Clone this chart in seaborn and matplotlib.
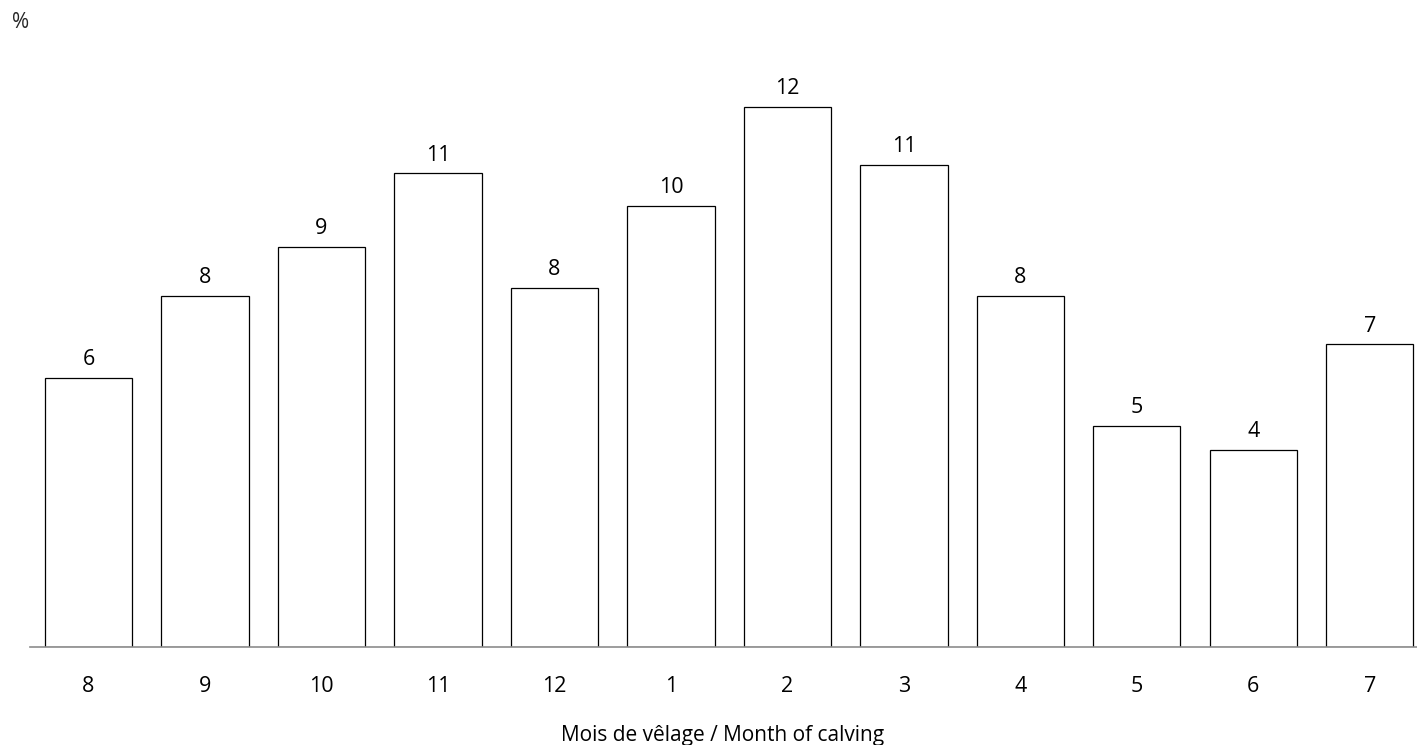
import matplotlib
matplotlib.use("Agg")
import matplotlib.pyplot as plt
import seaborn as sns

# month of calving, August to July
months = ["8", "9", "10", "11", "12", "1", "2", "3", "4", "5", "6", "7"]
shares = [5.98, 7.8, 8.89, 10.53, 7.98, 9.8, 12.0, 10.71, 7.8, 4.91, 4.38, 6.73]
shown = ["6", "8", "9", "11", "8", "10", "12", "11", "8", "5", "4", "7"]

sns.set_theme(style="white")
plt.rcParams["font.family"] = ["Open Sans", "DejaVu Sans"]

fig = plt.figure(figsize=(14.17, 7.45), dpi=100)
ax = fig.add_axes([30.25 / 1417, 98 / 745, 1397.75 / 1417, 585 / 745])

sns.barplot(x=months, y=shares, order=months, color="white", edgecolor="black",
            linewidth=0.9, width=0.75, saturation=1, ax=ax)
ax.bar_label(ax.containers[0], labels=shown, padding=5.5, fontsize=15.5, color="black")

ax.set_xlim(-0.5, 11.5)
ax.set_ylim(0, 13)
ax.set_yticks([])
ax.set_ylabel("")
for s in ["top", "right", "left"]:
    ax.spines[s].set_visible(False)
ax.spines["bottom"].set_color("#8c8c8c")
ax.spines["bottom"].set_linewidth(1.2)
ax.tick_params(axis="x", length=0, pad=21, labelsize=15.5, labelcolor="black")
ax.set_xlabel("Mois de vêlage / Month of calving", fontsize=15, color="black")
ax.xaxis.set_label_coords((723 - 30.25) / 1397.75, -(736 - 647) / 585)
ax.xaxis.label.set_va("center")

fig.text(12 / 1417, 1 - 22 / 745, "%", fontsize=15, va="center", ha="left")

fig.savefig("out.png", dpi=100)
plt.close(fig)
